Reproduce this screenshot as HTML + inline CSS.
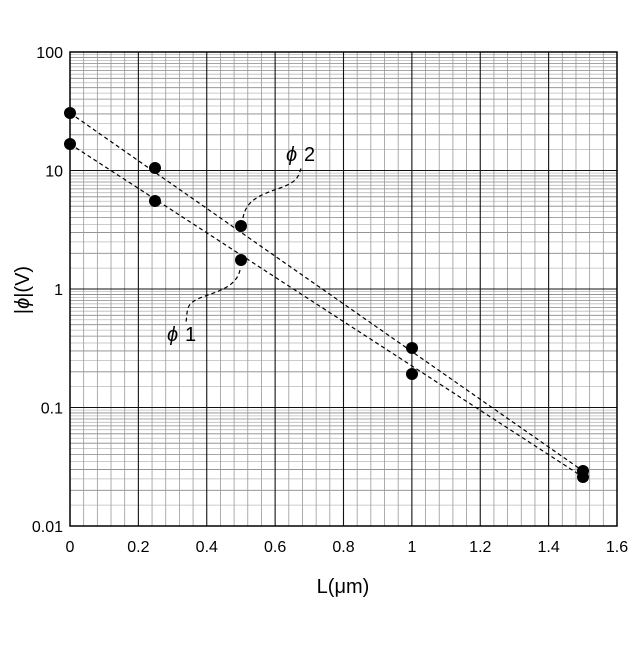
<!DOCTYPE html><html><head><style>body{margin:0;background:#fff}</style></head><body>
<svg width="640" height="640" xmlns="http://www.w3.org/2000/svg" font-family="Liberation Sans, sans-serif">
<path stroke="#bbb" stroke-width="0.8" fill="none" d="M70 505.13H617M70 478.84H617M70 461.53H617M70 448.59H617M70 438.27H617M70 429.67H617M70 422.3H617M70 415.86H617M70 410.14H617M70 386.63H617M70 360.34H617M70 343.03H617M70 330.09H617M70 319.77H617M70 311.17H617M70 303.8H617M70 297.36H617M70 291.64H617M70 268.13H617M70 241.84H617M70 224.53H617M70 211.59H617M70 201.27H617M70 192.67H617M70 185.3H617M70 178.86H617M70 173.14H617M70 149.63H617M70 123.34H617M70 106.03H617M70 93.09H617M70 82.77H617M70 74.17H617M70 66.8H617M70 60.36H617M70 54.64H617"/>
<path stroke="#888" stroke-width="0.8" fill="none" d="M70 490.33H617M70 469.46H617M70 454.66H617M70 443.17H617M70 433.79H617M70 425.86H617M70 418.98H617M70 412.92H617M70 371.83H617M70 350.96H617M70 336.16H617M70 324.67H617M70 315.29H617M70 307.36H617M70 300.48H617M70 294.42H617M70 253.33H617M70 232.46H617M70 217.66H617M70 206.17H617M70 196.79H617M70 188.86H617M70 181.98H617M70 175.92H617M70 134.83H617M70 113.96H617M70 99.16H617M70 87.67H617M70 78.29H617M70 70.36H617M70 63.48H617M70 57.42H617"/>
<path stroke="#999" stroke-width="0.8" fill="none" d="M83.675 52V526M97.35 52V526M111.025 52V526M124.7 52V526M152.05 52V526M165.725 52V526M179.4 52V526M193.075 52V526M220.425 52V526M234.1 52V526M247.775 52V526M261.45 52V526M288.8 52V526M302.475 52V526M316.15 52V526M329.825 52V526M357.175 52V526M370.85 52V526M384.525 52V526M398.2 52V526M425.55 52V526M439.225 52V526M452.9 52V526M466.575 52V526M493.925 52V526M507.6 52V526M521.275 52V526M534.95 52V526M562.3 52V526M575.975 52V526M589.65 52V526M603.325 52V526"/>
<path stroke="#111" stroke-width="1.1" fill="none" d="M138.375 52V526M206.75 52V526M275.125 52V526M343.5 52V526M411.875 52V526M480.25 52V526M548.625 52V526M70 407.5H617M70 289H617M70 170.5H617"/>
<rect x="70" y="52" width="547" height="474" fill="none" stroke="#000" stroke-width="1.5"/>
<g font-size="16" text-anchor="end">
<text x="63" y="532">0.01</text><text x="63" y="413.5">0.1</text><text x="63" y="295">1</text><text x="63" y="176.5">10</text><text x="63" y="58">100</text>
</g>
<g font-size="16" text-anchor="middle">
<text x="70" y="552">0</text><text x="138.4" y="552">0.2</text><text x="206.8" y="552">0.4</text><text x="275.1" y="552">0.6</text><text x="343.5" y="552">0.8</text><text x="411.9" y="552">1</text><text x="480.3" y="552">1.2</text><text x="548.6" y="552">1.4</text><text x="617" y="552">1.6</text>
</g>
<g stroke="#000" stroke-width="1.2" stroke-dasharray="4,3" fill="none">
<line x1="70" y1="113" x2="583" y2="471"/><line x1="70" y1="144" x2="583" y2="477"/>
<path d="M243 218 C246 200,260 195,280 188 S298 175,302 166"/>
<path d="M240 270 C236 288,215 292,200 298 S188 310,186 322"/>
</g>
<g fill="#000">
<circle cx="70" cy="113" r="6"/><circle cx="70" cy="144" r="6"/><circle cx="155" cy="168" r="6"/><circle cx="155" cy="201" r="6"/>
<circle cx="241" cy="226" r="6"/><circle cx="241" cy="260" r="6"/><circle cx="412" cy="348" r="6"/><circle cx="412" cy="374" r="6"/>
<circle cx="583" cy="471" r="6"/><circle cx="583" cy="477" r="6"/>
</g>
<text x="286" y="161" font-size="20" font-style="italic">ϕ</text><text x="304" y="161" font-size="20">2</text>
<text x="167" y="341" font-size="20" font-style="italic">ϕ</text><text x="185" y="341" font-size="20">1</text>
<text x="343" y="593" font-size="20" text-anchor="middle">L(μm)</text>
<text transform="translate(29,290) rotate(-90)" font-size="20" text-anchor="middle">|<tspan font-style="italic">ϕ</tspan>|(V)</text>
</svg></body></html>
